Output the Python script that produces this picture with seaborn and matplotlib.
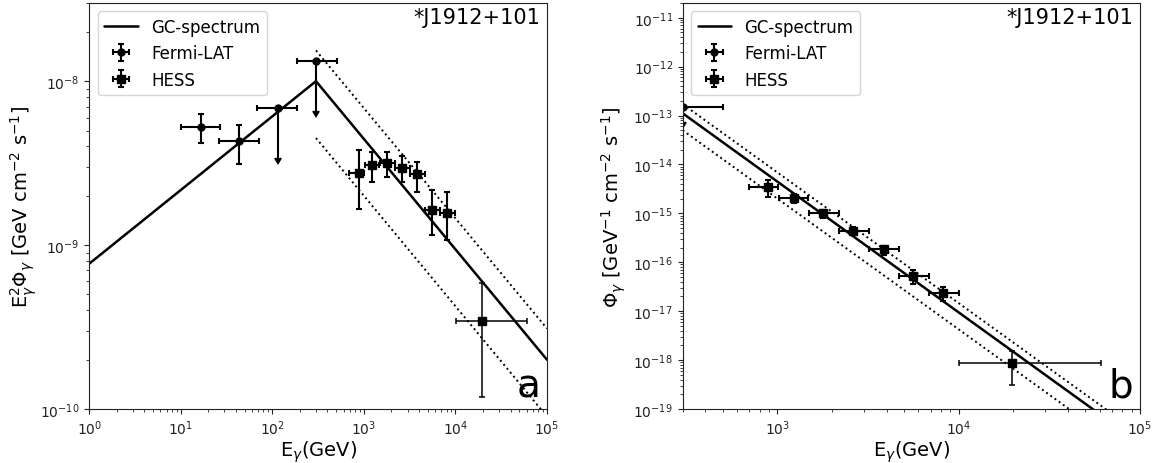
import numpy as np
import pandas as pd
import matplotlib
matplotlib.use("Agg")
import matplotlib.pyplot as plt
import seaborn as sns

# ---------------- data ----------------
# GC-spectrum, E^2 Phi [GeV cm^-2 s^-1] at the break points of the broken power law
gc_E = [1.0, 300.0, 1.0e5]
gc_E2F = [7.7e-10, 1.0e-8, 2.0e-10]
# dotted uncertainty band of the GC-spectrum above the break
band_E = [300.0, 1.0e5]
band_hi = [1.54e-8, 3.1e-10]
band_lo = [4.5e-9, 9.0e-11]

# Fermi-LAT (E^2 Phi)
fermi_E = [16.7, 43.2, 114.0, 300.0]
fermi_E_lo = [10.0, 26.1, 68.4, 184.0]
fermi_E_hi = [27.0, 71.4, 187.0, 504.0]
fermi_F = [5.28e-9, 4.30e-9, 6.84e-9, 1.32e-8]
fermi_F_lo = [4.18e-9, 3.13e-9, 3.38e-9, 6.55e-9]
fermi_F_hi = [6.31e-9, 5.38e-9, 6.84e-9, 1.32e-8]
fermi_ul = [False, False, True, True]

# HESS (E^2 Phi)
hess_E = [884.0, 1230.0, 1780.0, 2600.0, 3850.0, 5600.0, 8170.0]
hess_E_lo = [696.0, 1018.0, 1492.0, 2180.0, 3200.0, 4680.0, 6870.0]
hess_E_hi = [1005.0, 1479.0, 2175.0, 3185.0, 4680.0, 6850.0, 10000.0]
hess_F = [2.75e-9, 3.08e-9, 3.15e-9, 2.95e-9, 2.72e-9, 1.63e-9, 1.56e-9]
hess_F_lo = [1.67e-9, 2.43e-9, 2.59e-9, 2.43e-9, 2.12e-9, 1.15e-9, 1.08e-9]
hess_F_hi = [3.82e-9, 3.71e-9, 3.68e-9, 3.51e-9, 3.22e-9, 2.17e-9, 2.11e-9]

# HESS high-energy point
hess2_E = [19700.0]
hess2_E_lo = [10100.0]
hess2_E_hi = [61300.0]
hess2_F = [3.44e-10]
hess2_F_lo = [1.18e-10]
hess2_F_hi = [5.9e-10]

source_name = "*J1912+101"

# ---------------- figure ----------------
sns.set_style("ticks")
plt.rcParams.update({
    "font.family": ["DejaVu Sans"],
    "axes.edgecolor": "#222222",
    "xtick.color": "#222222",
    "ytick.color": "#222222",
    "axes.labelcolor": "black",
    "text.color": "black",
    "axes.linewidth": 0.8,
})

fig = plt.figure(figsize=(11.59, 4.64), dpi=100)
axA = fig.add_axes([0.0770, 0.1164, 0.3949, 0.875])
axB = fig.add_axes([0.5890, 0.1164, 0.3946, 0.875])


def to_phi(E, F):
    """panel b shows the same measurements as differential flux: Phi = (E^2 Phi) / E^2"""
    E = np.asarray(E, float)
    return np.asarray(F, float) / E**2


def draw(ax, conv):
    # GC spectrum
    gc = pd.DataFrame({"E": gc_E, "F": conv(gc_E, gc_E2F)})
    sns.lineplot(data=gc, x="E", y="F", ax=ax, color="black", lw=1.8,
                 label="GC-spectrum", sort=False, estimator=None)
    for b in (band_hi, band_lo):
        d = pd.DataFrame({"E": band_E, "F": conv(band_E, b)})
        sns.lineplot(data=d, x="E", y="F", ax=ax, color="black", lw=1.4,
                     linestyle=":", sort=False, estimator=None, legend=False)

    # Fermi-LAT
    fE = np.asarray(fermi_E)
    fF = conv(fermi_E, fermi_F)
    fFlo = conv(fermi_E, fermi_F_lo)
    fFhi = conv(fermi_E, fermi_F_hi)
    ax.errorbar(fE, fF,
                xerr=[fE - np.asarray(fermi_E_lo), np.asarray(fermi_E_hi) - fE],
                yerr=[fF - fFlo, fFhi - fF], uplims=fermi_ul,
                fmt="o", color="black", ms=5, elinewidth=1.5, capsize=2.5,
                capthick=1.5, label="Fermi-LAT")

    # HESS
    hE = np.asarray(hess_E)
    hF = conv(hess_E, hess_F)
    hFlo = conv(hess_E, hess_F_lo)
    hFhi = conv(hess_E, hess_F_hi)
    ax.errorbar(hE, hF,
                xerr=[hE - np.asarray(hess_E_lo), np.asarray(hess_E_hi) - hE],
                yerr=[hF - hFlo, hFhi - hF],
                fmt="s", color="black", ms=5.5, elinewidth=1.5, capsize=2.5,
                capthick=1.5, label="HESS")
    h2E = np.asarray(hess2_E)
    h2F = conv(hess2_E, hess2_F)
    h2Flo = conv(hess2_E, hess2_F_lo)
    h2Fhi = conv(hess2_E, hess2_F_hi)
    ax.errorbar(h2E, h2F,
                xerr=[h2E - np.asarray(hess2_E_lo), np.asarray(hess2_E_hi) - h2E],
                yerr=[h2F - h2Flo, h2Fhi - h2F],
                fmt="s", color="black", ms=5.5, elinewidth=1.1, capsize=2.5,
                capthick=1.1)

    ax.set_xscale("log")
    ax.set_yscale("log")
    ax.tick_params(axis="both", which="major", labelsize=10, length=3.5)
    ax.tick_params(axis="both", which="minor", length=2)
    ax.set_xlabel(r"E$_\gamma$(GeV)", fontsize=14, labelpad=0.5)
    ax.legend(loc="upper left", fontsize=12, frameon=True)
    ax.text(0.985, 0.99, source_name, transform=ax.transAxes, ha="right",
            va="top", fontsize=15)


draw(axA, lambda E, F: np.asarray(F, float))
axA.set_xlim(1, 1e5)
axA.set_ylim(1e-10, 3e-8)
axA.set_ylabel(r"E$^2_\gamma\Phi_\gamma$ [GeV cm$^{-2}$ s$^{-1}$]", fontsize=14,
               labelpad=1)
axA.text(0.985, 0.03, "a", transform=axA.transAxes, ha="right",
         va="baseline", fontsize=28)

draw(axB, to_phi)
axB.set_xlim(300, 1e5)
axB.set_ylim(1e-19, 2e-11)
axB.set_ylabel(r"$\Phi_\gamma$ [GeV$^{-1}$ cm$^{-2}$ s$^{-1}$]", fontsize=14)
axB.text(0.985, 0.03, "b", transform=axB.transAxes, ha="right",
         va="baseline", fontsize=28)

fig.savefig("out.png", dpi=100)
